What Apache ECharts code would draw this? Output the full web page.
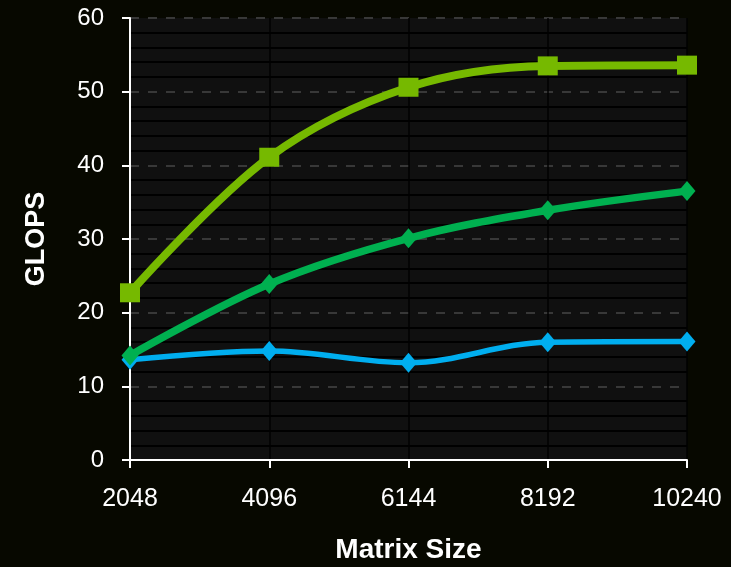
<!DOCTYPE html>
<html>
<head>
<meta charset="utf-8">
<script src="https://cdn.jsdelivr.net/npm/echarts@6/dist/echarts.min.js"></script>
<style>
  html, body { margin: 0; padding: 0; background: #070800; }
  #chart { width: 731px; height: 567px; }
</style>
</head>
<body>
<div id="chart"></div>
<script>
// Matrix sizes on the x axis
const matrixSizes = ['2048', '4096', '6144', '8192', '10240'];

// Throughput per implementation (GFLOPS)
const seriesTop = [22.7, 41.1, 50.6, 53.5, 53.6];
const seriesMid = [14.2, 23.9, 30.1, 33.9, 36.5];
const seriesLow = [13.6, 14.8, 13.2, 16.0, 16.1];

const chart = echarts.init(document.getElementById('chart'), null, { renderer: 'canvas' });

const font = 'Liberation Sans, Arial, sans-serif';

chart.setOption({
  backgroundColor: '#070800',
  animation: false,
  grid: {
    left: 130, right: 44, top: 18, bottom: 107,
    outerBoundsMode: 'none',
    containLabel: false,
    show: true, backgroundColor: '#101010', borderWidth: 0
  },
  xAxis: {
    type: 'category',
    data: matrixSizes,
    boundaryGap: false,
    name: 'Matrix Size',
    nameLocation: 'middle',
    nameGap: 76,
    nameTextStyle: { color: '#fff', fontSize: 28, fontWeight: 'bold', fontFamily: font },
    axisLine: { lineStyle: { color: '#fff', width: 2 } },
    axisTick: { show: true, alignWithLabel: true, length: 8, lineStyle: { color: '#fff', width: 2 } },
    axisLabel: { color: '#fff', fontSize: 25, fontFamily: font, margin: 27 },
    splitLine: { show: true, lineStyle: { color: '#000', width: 1.5 } }
  },
  yAxis: {
    type: 'value',
    min: 0, max: 60, interval: 10,
    name: 'GLOPS',
    nameLocation: 'middle',
    nameGap: 80,
    nameRotate: 90,
    nameTextStyle: { color: '#fff', fontSize: 27, fontWeight: 'bold', fontFamily: font },
    axisLine: { show: true, lineStyle: { color: '#fff', width: 2 } },
    axisTick: { show: true, length: 8, lineStyle: { color: '#fff', width: 2 } },
    axisLabel: { color: '#fff', fontSize: 24, fontFamily: font, margin: 26 },
    splitLine: { show: true, lineStyle: { color: '#383838', width: 2, type: [9, 9] } },
    minorTick: { show: false, splitNumber: 5 },
    minorSplitLine: { show: true, lineStyle: { color: '#000', width: 2 } }
  },
  series: [
    {
      name: 'low',
      type: 'line',
      data: seriesLow,
      smooth: 0.35,
      symbol: 'diamond',
      symbolSize: [17, 20],
      itemStyle: { color: '#00aeef' },
      lineStyle: { color: '#00aeef', width: 5.5 },
      z: 3
    },
    {
      name: 'mid',
      type: 'line',
      data: seriesMid,
      smooth: 0.35,
      symbol: 'diamond',
      symbolSize: [17, 20],
      itemStyle: { color: '#00b050' },
      lineStyle: { color: '#00b050', width: 7.5 },
      z: 4
    },
    {
      name: 'top',
      type: 'line',
      data: seriesTop,
      smooth: 0.35,
      symbol: 'rect',
      symbolSize: [20, 19],
      itemStyle: { color: '#76b900' },
      lineStyle: { color: '#76b900', width: 8 },
      z: 5
    }
  ]
});
</script>
</body>
</html>
